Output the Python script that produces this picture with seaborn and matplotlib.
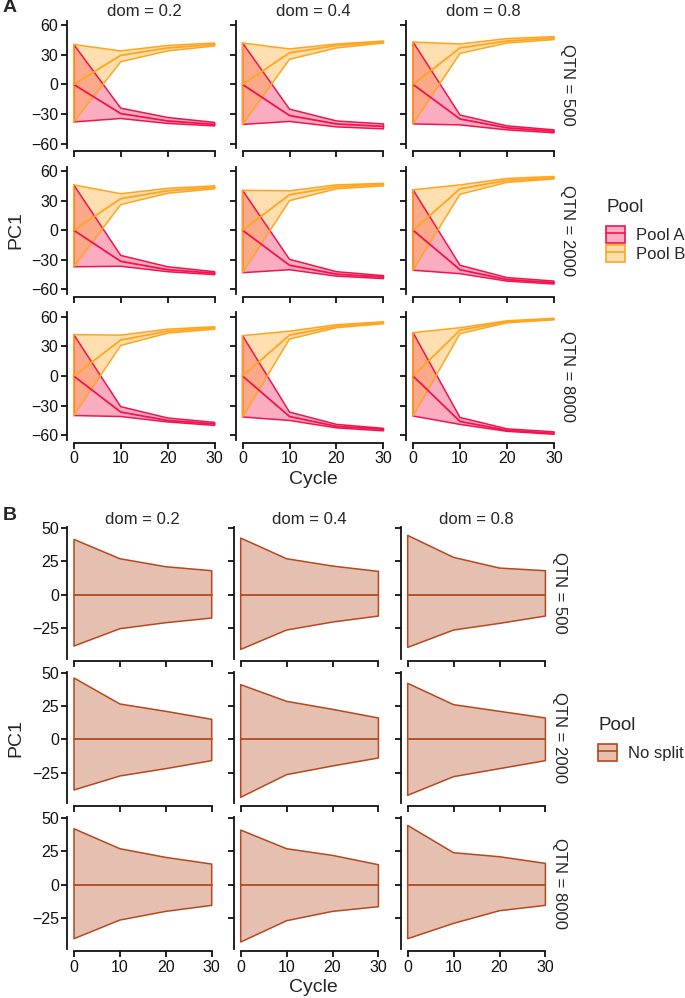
import numpy as np
import pandas as pd
import seaborn as sns
import matplotlib.pyplot as plt
from matplotlib.colors import to_rgba
from matplotlib.patches import Patch
from matplotlib.lines import Line2D
from matplotlib.legend_handler import HandlerTuple

sns.set_style("ticks")
plt.rcParams['font.family'] = ['Liberation Sans', 'DejaVu Sans']

cycles = [0, 10, 20, 30]
doms = [0.2, 0.4, 0.8]
qtns = [500, 2000, 8000]

# facets in order: QTN 500 (dom .2 .4 .8), QTN 2000 (...), QTN 8000 (...)
# values at cycle 0, 10, 20, 30
a_hi = [[40.5, -24, -33.5, -38.5], [42, -25, -37, -40], [43, -31, -42, -46],
        [46, -25.5, -37, -42], [40.5, -29.5, -42, -46], [41, -35.5, -48, -51.5],
        [42, -31, -42.5, -47], [41, -36.5, -49, -53], [44, -42, -53.5, -56.5]]
a_mid = [[0, -29.5, -37, -40.5], [0, -31.5, -40, -42.5], [0, -35, -44, -47.5],
         [0, -31.5, -40, -43.5], [0, -35.5, -44.5, -47.5], [0, -40, -50, -53],
         [0, -36.5, -45, -48.5], [0, -41, -51, -54], [0, -46, -55, -58]]
a_lo = [[-38, -34.5, -39.5, -42], [-40.5, -37.5, -43, -45], [-40, -41, -46, -49],
        [-37, -36.5, -42, -45], [-43, -40, -46.5, -49], [-40.5, -44, -51.5, -54.5],
        [-40, -41, -46.5, -50], [-41.5, -45, -52.5, -55.5], [-40.5, -49, -56, -59]]

b_hi = [[40.5, 34, 39.5, 42], [42, 36, 41, 44], [43, 41, 46.5, 48.5],
        [46, 37, 42.5, 45], [40.5, 40, 46, 47.5], [41, 46, 52.5, 54.5],
        [42, 41.5, 47.5, 50], [41, 45.5, 52, 55], [44, 49, 56, 58.5]]
b_mid = [[0, 29.5, 37, 40.5], [0, 32, 39.5, 43], [0, 37, 44, 47],
         [0, 32, 40, 43.5], [0, 36, 44, 46.5], [0, 42, 50.5, 53],
         [0, 36.5, 45.5, 49], [0, 41.5, 50.5, 54], [0, 46.5, 55, 57.5]]
b_lo = [[-38, 23, 34, 39], [-40.5, 25.5, 37, 42], [-40, 31.5, 42, 45.5],
        [-37, 26, 37.5, 42], [-43, 30, 42, 45], [-40.5, 36.5, 48.5, 52],
        [-40, 31, 43.5, 47.5], [-41.5, 37.5, 49, 53], [-40.5, 43, 54, 57]]

# no split
n_hi = [[41.5, 27, 21, 18], [42.5, 27, 21.5, 17.5], [44.5, 28, 20, 18],
        [46, 26.5, 21, 15], [41, 28.5, 22.5, 16], [42, 26, 21, 16],
        [42, 27, 20.5, 15.5], [41, 27, 22, 15], [44.5, 24, 21, 16]]
n_mid = [[0, 0, 0, 0]] * 9
n_lo = [[-38.5, -25.5, -21, -17.5], [-41, -26.5, -20.5, -16], [-39.5, -26.5, -21.5, -16],
        [-38, -27.5, -22, -16], [-43.5, -26.5, -20, -14], [-42, -28, -22, -16],
        [-40.5, -26.5, -20, -15.5], [-43, -27, -20, -16.5], [-40.5, -29, -19.5, -15.5]]

colors = {'Pool A': '#F2134F', 'Pool B': '#FFA51E', 'No split': '#B5481F'}


def make_df(pool, hi, mid, lo):
    rows = []
    for i in range(9):
        for j, c in enumerate(cycles):
            rows.append({'QTN': qtns[i // 3], 'dom': doms[i % 3], 'Pool': pool,
                         'Cycle': c, 'lo': lo[i][j], 'mid': mid[i][j], 'hi': hi[i][j]})
    return pd.DataFrame(rows)


df_a = pd.concat([make_df('Pool A', a_hi, a_mid, a_lo), make_df('Pool B', b_hi, b_mid, b_lo)])
df_b = make_df('No split', n_hi, n_mid, n_lo)

W, H = 685, 998
fig = plt.figure(figsize=(W / 100, H / 100), dpi=100)


def px_axes(left, top, w, h):
    return fig.add_axes([left / W, 1 - (top + h) / H, w / W, h / H])


def draw_block(df, pools, lefts, width, tops, height, ylim, yticks, strip_y, qtn_x, cycle_y):
    for r, q in enumerate(qtns):
        for c, d in enumerate(doms):
            ax = px_axes(lefts[c], tops[r], width, height)
            sub = df[(df.QTN == q) & (df.dom == d)]
            for p in pools:
                s = sub[sub.Pool == p]
                ax.fill_between(s.Cycle, s.lo, s.hi, facecolor=to_rgba(colors[p], 0.35),
                                edgecolor='none', lw=0)
            for p in pools:
                s = sub[sub.Pool == p]
                ax.fill_between(s.Cycle, s.lo, s.hi, facecolor='none',
                                edgecolor=colors[p], lw=1.1)
                sns.lineplot(data=s, x='Cycle', y='mid', color=colors[p], lw=1.3,
                             ax=ax, legend=False)
            ax.set_xlim(-1.5, 31.5)
            ax.set_ylim(*ylim)
            ax.set_xticks(cycles)
            ax.set_yticks(yticks)
            ax.set_xlabel('')
            ax.set_ylabel('')
            ax.spines['top'].set_visible(False)
            ax.spines['right'].set_visible(False)
            ax.spines['bottom'].set_bounds(0, 30)
            ax.spines['bottom'].set_position(('outward', 2))
            for sp in ('left', 'bottom'):
                ax.spines[sp].set_linewidth(1.3)
                ax.spines[sp].set_color('#111111')
            ax.tick_params(length=4, width=1.3, color='#111111', labelsize=11.5,
                           labelcolor='#111111', pad=2)
            if c > 0:
                ax.set_yticklabels([])
            if r < 2:
                ax.set_xticklabels([])
            if r == 0:
                fig.text((lefts[c] + width / 2) / W, 1 - strip_y / H, f'dom = {d}',
                         ha='center', va='center', fontsize=12)
            if c == 2:
                fig.text(qtn_x / W, 1 - (tops[r] + height / 2) / H, f'QTN = {q}',
                         rotation=270, ha='center', va='center', fontsize=12)
    fig.text(313 / W, 1 - cycle_y / H, 'Cycle', ha='center', va='center', fontsize=14)
    fig.text(16 / W, 1 - (tops[1] + height / 2) / H, 'PC1', rotation=90,
             ha='center', va='center', fontsize=14)


# panel A
draw_block(df_a, ['Pool A', 'Pool B'], [66.7, 235.5, 406], 155, [20.7, 166.5, 312.3], 127.5,
           (-64.6, 64.6), [-60, -30, 0, 30, 60], 11, 567.5, 479.5)
# panel B
draw_block(df_b, ['No split'], [67.1, 233.8, 400.8], 151.5, [527.4, 672, 817.4], 131.3,
           (-48, 50.5), [-25, 0, 25, 50], 519, 560, 987)

fig.text(3 / W, 1 - 8 / H, 'A', fontsize=14, fontweight='bold', ha='left', va='center')
fig.text(3 / W, 1 - 515 / H, 'B', fontsize=14, fontweight='bold', ha='left', va='center')


def key(p):
    return (Patch(facecolor=to_rgba(colors[p], 0.35), edgecolor=colors[p], lw=1.2),
            Line2D([0, 1], [0, 0], color=colors[p], lw=1.2))


leg_kw = dict(handler_map={tuple: HandlerTuple(ndivide=1, pad=0)}, frameon=False,
              loc='upper left', borderpad=0, borderaxespad=0, fontsize=12,
              title_fontsize=13.5, handlelength=1.15, handleheight=1.2,
              labelspacing=0.1, handletextpad=0.65, alignment='left')
leg_a = fig.legend([key('Pool A'), key('Pool B')], ['Pool A', 'Pool B'], title='Pool',
                   bbox_to_anchor=(606 / W, 1 - 199 / H), **leg_kw)
leg_b = fig.legend([key('No split')], ['No split'], title='Pool',
                   bbox_to_anchor=(598 / W, 1 - 717 / H), **leg_kw)
# more room between legend title and keys, like ggplot
for leg in (leg_a, leg_b):
    leg._legend_box.sep = 7

fig.savefig('out.png', dpi=100)
